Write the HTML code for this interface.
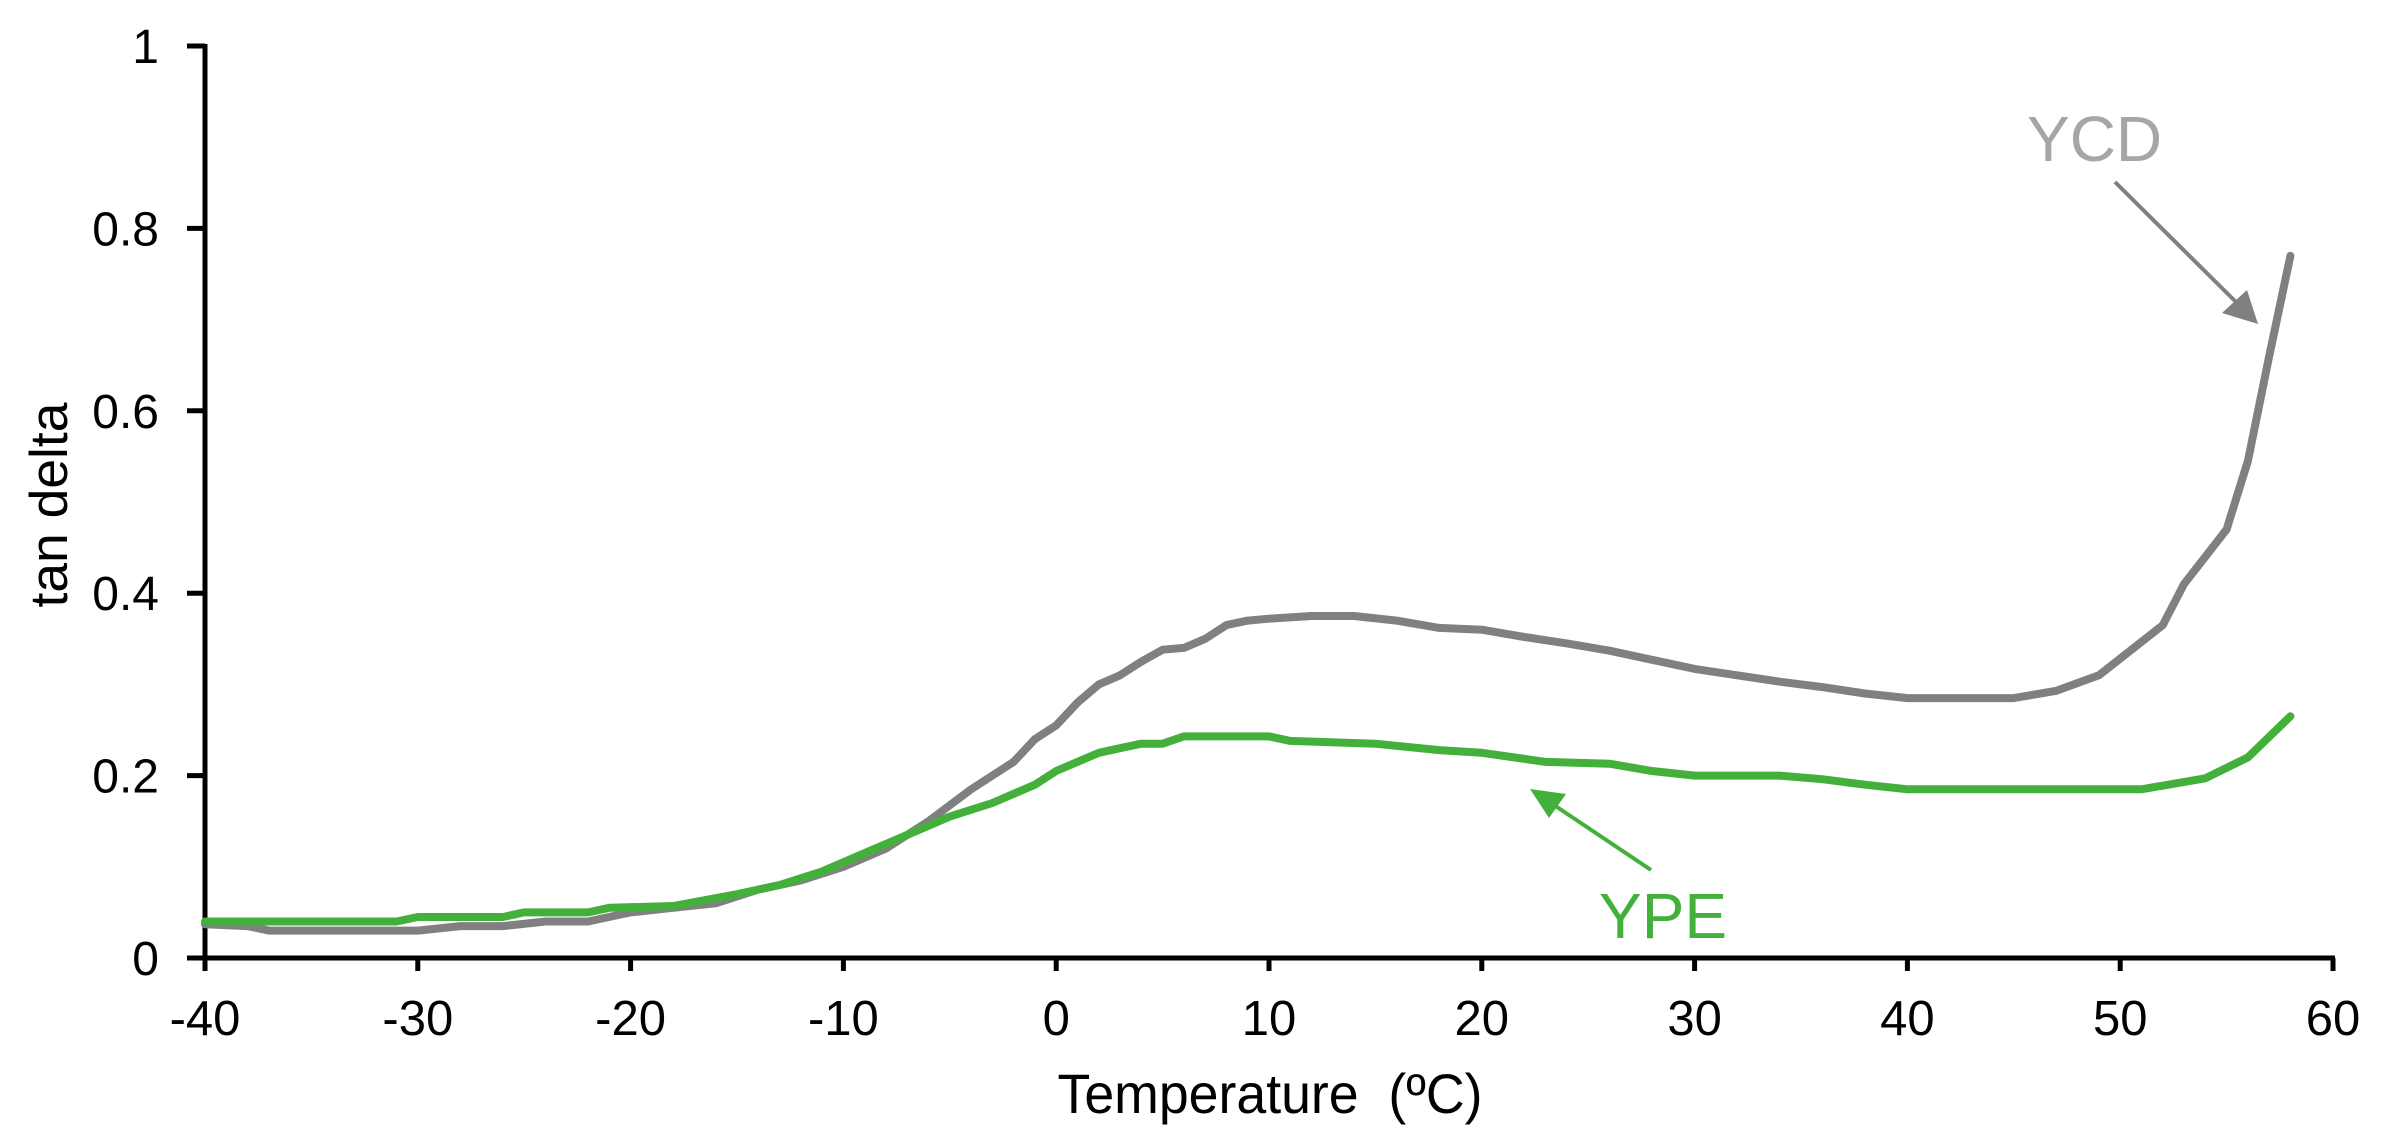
<!DOCTYPE html>
<html><head><meta charset="utf-8"><style>
html,body{margin:0;padding:0;background:#fff;}
svg{display:block;font-family:"Liberation Sans",Arial,sans-serif;}
</style></head><body>
<svg id="chart" width="2392" height="1144" viewBox="0 0 2392 1144" xmlns="http://www.w3.org/2000/svg">
<g id="axes"></g>
<g id="series"></g>
<text x="0" y="0" transform="translate(67,505) rotate(-90)" text-anchor="middle" font-size="53" textLength="205" lengthAdjust="spacingAndGlyphs">tan delta</text>
<text x="1270" y="1113" text-anchor="middle" font-size="56" textLength="425" lengthAdjust="spacingAndGlyphs" xml:space="preserve">Temperature  (ºC)</text>
<text x="2027" y="161" font-size="64" fill="#a6a6a6">YCD</text>
<line x1="2115" y1="182" x2="2240" y2="306" stroke="#808080" stroke-width="4"/>
<polygon points="2258,324 2222,313 2247,290" fill="#808080"/>
<text x="1599" y="938" font-size="64" fill="#44b03c">YPE</text>
<line x1="1651" y1="870" x2="1548" y2="801" stroke="#44b03c" stroke-width="4"/>
<polygon points="1530,789 1566,794 1549,818" fill="#44b03c"/>
</svg>
<script>
const xTicks = [-40,-30,-20,-10,0,10,20,30,40,50,60];
const yTicks = [0,0.2,0.4,0.6,0.8,1];
const yTickLabels = ["0","0.2","0.4","0.6","0.8","1"];
const ycdX = [-40,-38,-37,-35,-30,-28,-26,-24,-22,-20,-18,-16,-14,-12,-10,-8,-6,-4,-2,-1,0,1,2,3,4,5,6,7,8,9,10,12,14,16,18,20,22,24,26,28,30,32,34,36,38,40,42,45,47,49,52,53,55,56,57,58];
const ycdY = [0.037,0.035,0.03,0.03,0.03,0.035,0.035,0.04,0.04,0.05,0.055,0.06,0.075,0.085,0.1,0.12,0.15,0.185,0.215,0.24,0.255,0.28,0.3,0.31,0.325,0.338,0.34,0.35,0.365,0.37,0.372,0.375,0.375,0.37,0.362,0.36,0.352,0.345,0.337,0.327,0.317,0.31,0.303,0.297,0.29,0.285,0.285,0.285,0.293,0.31,0.365,0.41,0.47,0.545,0.66,0.77];
const ypeX = [-40,-31,-30,-26,-25,-22,-21,-18,-15,-13,-11,-9,-7,-5,-3,-1,0,2,3,4,5,6,10,11,15,18,20,23,26,28,30,34,36,38,40,51,54,56,58];
const ypeY = [0.04,0.04,0.045,0.045,0.05,0.05,0.055,0.057,0.07,0.08,0.095,0.115,0.135,0.155,0.17,0.19,0.205,0.225,0.23,0.235,0.235,0.243,0.243,0.238,0.235,0.228,0.225,0.215,0.213,0.205,0.2,0.2,0.196,0.19,0.185,0.185,0.197,0.22,0.265];

const X0=205, X1=2333, Y0=958, Y1=46;
const sx = v => X0 + (v - (-40)) / 100 * (X1 - X0);
const sy = v => Y0 - v * (Y0 - Y1);
const NS="http://www.w3.org/2000/svg";
const axes=document.getElementById('axes'), series=document.getElementById('series');
function mk(tag, parent, attrs){const e=document.createElementNS(NS,tag);for(const k in attrs)e.setAttribute(k,attrs[k]);parent.appendChild(e);return e;}

yTicks.forEach((t,i)=>{
  const y=sy(t);
  const tk=mk('line',axes,{x1:X0-18,x2:X0,y1:y,y2:y,stroke:'#000','stroke-width':5});
  
  
  const lb=mk('text',axes,{x:159,y:y+17,'text-anchor':'end','font-size':48});
  
  
  lb.textContent=yTickLabels[i];
});
xTicks.forEach(t=>{
  const x=sx(t);
  const tk=mk('line',axes,{x1:x,x2:x,y1:Y0,y2:Y0+13,stroke:'#000','stroke-width':5});
  
  
  const lb=mk('text',axes,{x:x,y:1035,'text-anchor':'middle','font-size':49});
  
  
  lb.textContent=String(t);
});
const ya=mk('line',axes,{x1:X0,x2:X0,y1:Y1-2,y2:Y0+13,stroke:'#000','stroke-width':5});


const xa=mk('line',axes,{x1:X0-18,x2:X1+2,y1:Y0,y2:Y0,stroke:'#000','stroke-width':5});



function line(xs,ys,color,name){
  const d=xs.map((x,i)=>(i?'L':'M')+sx(x).toFixed(1)+','+sy(ys[i]).toFixed(1)).join(' ');
  const p=mk('path',series,{d:d,fill:'none',stroke:color,'stroke-width':8,'stroke-linejoin':'round','stroke-linecap':'round'});
  
  
}
line(ycdX,ycdY,'#808080','ycd-line');
line(ypeX,ypeY,'#44b03c','ype-line');
</script>
</body></html>
